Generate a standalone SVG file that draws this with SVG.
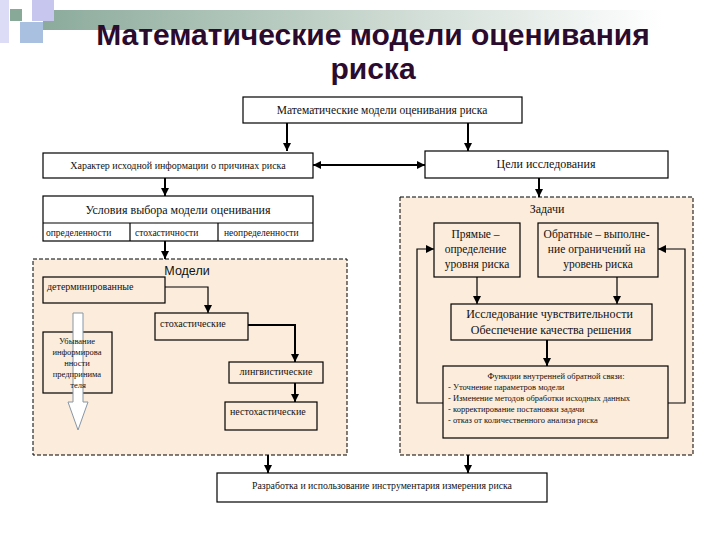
<svg xmlns="http://www.w3.org/2000/svg" width="720" height="540" viewBox="0 0 720 540">
<defs>
<linearGradient id="bar" x1="0" y1="0" x2="1" y2="0">
<stop offset="0" stop-color="#6f9683"/>
<stop offset="0.4" stop-color="#a9c0b3"/>
<stop offset="1" stop-color="#ffffff"/>
</linearGradient>
<marker id="ah" viewBox="0 0 10 10" refX="10" refY="5" markerWidth="8" markerHeight="8" markerUnits="userSpaceOnUse" orient="auto-start-reverse">
<path d="M0,0 L10,5 L0,10 z" fill="#000"/>
</marker>
<style>
.t{fill:#111}
.box{fill:#ffffff;stroke:#000;stroke-width:1.2}
.pbox{fill:#fcecdc;stroke:#000;stroke-width:1.2}
.zone{fill:#fcecdc;stroke:#000;stroke-width:1;stroke-dasharray:4 2}
.c{fill:none;stroke:#000;stroke-width:1.2}
.ct{fill:none;stroke:#000;stroke-width:2}
</style>
</defs>
<rect width="720" height="540" fill="#fff"/>
<g id="decor">
<rect x="43" y="10" width="620" height="20" fill="url(#bar)" opacity="0.8"/>
<rect x="0" y="0" width="9" height="43" fill="#dcdcf6"/>
<rect x="32" y="0" width="22" height="21" fill="#c6c6ee"/>
<rect x="20" y="22" width="23" height="21" fill="#a9c0e0"/>
<rect x="10" y="9" width="12" height="12" fill="#88a898"/>
</g>
<g id="title" font-family="Liberation Sans, Arial, sans-serif" font-weight="bold" font-size="30" fill="#2b0b2e" text-anchor="middle">
<text x="373" y="45">Математические модели оценивания</text>
<text x="373" y="79">риска</text>
</g>
<g font-family="Liberation Serif, Times New Roman, serif">
<g id="zone-models">
<rect class="zone" x="33" y="259" width="314" height="196"/>
<text x="187" y="275" text-anchor="middle" font-size="12.5" font-family="Liberation Sans, Arial, sans-serif" fill="#111">Модели</text>
</g>
<g id="zone-tasks">
<rect class="zone" x="400" y="197" width="293" height="258"/>
<text class="t" x="547" y="213" text-anchor="middle" font-size="12">Задачи</text>
</g>
<g id="connectors">
<path class="ct" d="M287,123 V151" marker-end="url(#ah)"/>
<path class="ct" d="M468,123 V151" marker-end="url(#ah)"/>
<path class="ct" d="M313,165 H425" marker-start="url(#ah)" marker-end="url(#ah)"/>
<path class="ct" d="M165,178 V196" marker-end="url(#ah)"/>
<path class="ct" d="M165,241 V259" marker-end="url(#ah)"/>
<path class="ct" d="M539,178 V197" marker-end="url(#ah)"/>
<path class="c" d="M165,287 H208 V313" marker-end="url(#ah)"/>
<path class="ct" d="M248,325 H295 V362" marker-end="url(#ah)"/>
<path class="ct" d="M295,383 V402" marker-end="url(#ah)"/>
<path class="c" d="M477,277 V304" marker-end="url(#ah)"/>
<path class="c" d="M617,277 V304" marker-end="url(#ah)"/>
<path class="ct" d="M547,340 V366" marker-end="url(#ah)"/>
<path class="c" d="M443,403 H417 V249 H434" marker-end="url(#ah)"/>
<path class="c" d="M668,403 H685 V249 H658" marker-end="url(#ah)"/>
<path class="ct" d="M268,455 V473" marker-end="url(#ah)"/>
<path class="ct" d="M468,455 V473" marker-end="url(#ah)"/>
</g>
<g id="n-main">
<rect class="box" x="243" y="97" width="279" height="26"/>
<text class="t" x="382" y="114" text-anchor="middle" font-size="11.5">Математические модели оценивания риска</text>
</g>
<g id="n-info">
<rect class="box" x="43" y="153" width="270" height="25"/>
<text class="t" x="178" y="169" text-anchor="middle" font-size="10">Характер исходной информации о причинах риска</text>
</g>
<g id="n-goals">
<rect class="box" x="425" y="151" width="243" height="27"/>
<text class="t" x="546" y="168" text-anchor="middle" font-size="12">Цели исследования</text>
</g>
<g id="n-conditions">
<rect class="box" x="43" y="196" width="270" height="45"/>
<line x1="43" y1="223" x2="313" y2="223" stroke="#000" stroke-width="1.2"/>
<line x1="130" y1="223" x2="130" y2="241" stroke="#000" stroke-width="1.2"/>
<line x1="218" y1="223" x2="218" y2="241" stroke="#000" stroke-width="1.2"/>
<text class="t" x="178" y="214" text-anchor="middle" font-size="12">Условия выбора модели оценивания</text>
<text class="t" x="46" y="236" font-size="9.5">определенности</text>
<text class="t" x="135" y="236" font-size="9.5">стохастичности</text>
<text class="t" x="224" y="236" font-size="9.5">неопределенности</text>
</g>
<g id="n-determ">
<rect class="pbox" x="43" y="277" width="122" height="26"/>
<text class="t" x="47" y="290" font-size="10">детерминированные</text>
</g>
<g id="n-stoch">
<rect class="pbox" x="155" y="313" width="93" height="27"/>
<text class="t" x="160" y="327" font-size="10">стохастические</text>
</g>
<g id="n-ling">
<rect class="pbox" x="229" y="362" width="94" height="21"/>
<text class="t" x="276" y="375" text-anchor="middle" font-size="10">лингвистические</text>
</g>
<g id="n-nonstoch">
<rect class="pbox" x="225" y="402" width="92" height="28"/>
<text class="t" x="230" y="415" font-size="10">нестохастические</text>
</g>
<g id="n-decrease">
<rect class="pbox" x="43" y="332" width="69" height="61"/>
<path d="M73,313 H83 V402 H88 L78,430 L68,402 H73 Z" fill="#ffffff" stroke="#8796a6" stroke-width="1"/>
<text class="t" font-size="8.5" text-anchor="middle">
<tspan x="78" y="344">Убывание</tspan>
<tspan x="78" y="355">информирова</tspan>
<tspan x="78" y="366">нности</tspan>
<tspan x="78" y="377">предпринима</tspan>
<tspan x="78" y="388">теля</tspan>
</text>
</g>
<g id="n-direct">
<rect class="pbox" x="434" y="223" width="86" height="54"/>
<text class="t" font-size="11.5" text-anchor="middle">
<tspan x="477" y="238">Прямые –</tspan>
<tspan x="477" y="253">определение</tspan>
<tspan x="477" y="268">уровня риска</tspan>
</text>
</g>
<g id="n-inverse">
<rect class="pbox" x="538" y="223" width="120" height="54"/>
<text class="t" font-size="11.5" text-anchor="middle">
<tspan x="598" y="238">Обратные – выполне-</tspan>
<tspan x="598" y="253">ние ограничений на</tspan>
<tspan x="598" y="268">уровень риска</tspan>
</text>
</g>
<g id="n-sensitivity">
<rect class="pbox" x="451" y="304" width="201" height="36"/>
<text class="t" font-size="12" text-anchor="middle">
<tspan x="551" y="318">Исследование чувствительности</tspan>
<tspan x="551" y="334">Обеспечение качества решения</tspan>
</text>
</g>
<g id="n-feedback">
<rect class="pbox" x="443" y="366" width="225" height="72"/>
<text class="t" x="556" y="379" text-anchor="middle" font-size="8.5">Функции внутренней обратной связи:</text>
<text class="t" font-size="8.5">
<tspan x="448" y="390">- Уточнение параметров модели</tspan>
<tspan x="448" y="401">- Изменение методов обработки исходных данных</tspan>
<tspan x="448" y="412">- корректирование постановки задачи</tspan>
<tspan x="448" y="423">- отказ от количественного анализа риска</tspan>
</text>
</g>
<g id="n-tools">
<rect class="box" x="217" y="473" width="330" height="29"/>
<text class="t" x="382" y="489" text-anchor="middle" font-size="9.8">Разработка и использование инструментария измерения риска</text>
</g>
</g>
</svg>
